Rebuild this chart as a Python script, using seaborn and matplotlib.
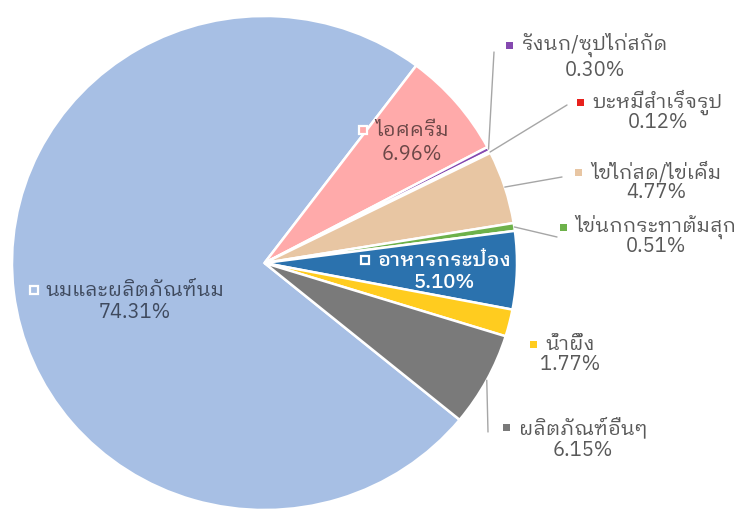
import matplotlib
matplotlib.use('Agg')
import numpy as np
import matplotlib.pyplot as plt
import seaborn as sns
from matplotlib import font_manager
from matplotlib.ft2font import FT2Font
from matplotlib.patches import Rectangle

# ข้อมูล
labels = ['นมและผลิตภัณฑ์นม', 'ไอศครีม', 'รังนก/ซุปไก่สกัด', 'บะหมี่สำเร็จรูป',
          'ไข่ไก่สด/ไข่เค็ม', 'ไข่นกกระทาต้มสุก', 'อาหารกระป๋อง', 'น้ำผึ้ง',
          'ผลิตภัณฑ์อื่นๆ']
shares = [74.31, 6.96, 0.30, 0.12, 4.77, 0.51, 5.10, 1.77, 6.15]
colors = ['#A7BFE4', '#FFAAAA', '#8549B0', '#E8211D', '#E8C6A3', '#6DB14A',
          '#2B72AE', '#FFCC1F', '#7A7A7A']

# fonts with Thai glyphs, looped ones (Tahoma-like) first
thai = set()
for f in font_manager.fontManager.ttflist:
    try:
        if 0x0E19 in FT2Font(f.fname).get_charmap():
            thai.add(f.name)
    except Exception:
        pass
prefer = ['IBM Plex Sans Thai Looped', 'Noto Sans Thai Looped', 'Tahoma',
          'Noto Sans Thai', 'IBM Plex Sans Thai', 'Sarabun']
fams = [p for p in prefer if p in thai] + sorted(thai)

sns.set_theme(style='white')
plt.rcParams['font.family'] = fams[:1] + ['DejaVu Sans']

W, H = 738, 512
fig = plt.figure(figsize=(W / 100, H / 100), dpi=100)
ax = fig.add_axes([12 / W, 2 / H, 505 / W, 494 / H])

wedges, _ = ax.pie(shares, colors=colors, startangle=-39.4, counterclock=False,
                   wedgeprops=dict(edgecolor='white', linewidth=1.8))
ax.set_xlim(-1, 1)
ax.set_ylim(-1, 1)
ax.set_aspect('auto')
ax.axis('off')

# label layout, pixel positions from the top-left: name line / leader end
name_pos = [(135, 290), (412, 130), (595, 45), (658, 102), (656, 172),
            (656, 227), (444, 260), (570, 344), (583, 427)]
pct_dy = [23, 24, 26, 21, 21, 20, 22, 21, 24]
text_col = ['#3F4A5E', '#6B4747', '#595959', '#595959', '#595959', '#595959',
            'white', '#595959', '#595959']
inside = [True, True, False, False, False, False, True, False, False]
leader_end = [None, None, (494, 52), (567, 105), (562, 177), (557, 237), None,
              None, (488, 432)]
fs = 14.5

texts = []
for i, lab in enumerate(labels):
    x, y = name_pos[i]
    weight = 'medium' if i == 6 else 'normal'
    t = fig.text(x / W, 1 - y / H, lab, ha='center', va='center', fontsize=fs,
                 color=text_col[i], fontweight=weight)
    fig.text(x / W, 1 - (y + pct_dy[i]) / H, '{0:.2f}%'.format(shares[i]),
             ha='center', va='center', fontsize=fs, color=text_col[i],
             fontweight=weight)
    texts.append(t)

fig.canvas.draw()
renderer = fig.canvas.get_renderer()
for i, t in enumerate(texts):
    bb = t.get_window_extent(renderer)
    s = 8 if inside[i] else 7
    cx = bb.x0 - 12
    cy = (bb.y0 + bb.y1) / 2
    if inside[i]:
        fig.add_artist(Rectangle((cx - s / 2, cy - s / 2), s, s,
                                 transform=None, facecolor=colors[i],
                                 edgecolor='white', linewidth=1.6))
    else:
        fig.add_artist(Rectangle((cx - s / 2, cy - s / 2), s, s,
                                 transform=None, facecolor=colors[i],
                                 edgecolor='none'))

# leader lines from the wedge rim
for i, w in enumerate(wedges):
    if leader_end[i] is None:
        continue
    mid = np.deg2rad((w.theta1 + w.theta2) / 2)
    ex, ey = leader_end[i]
    ax.annotate('', xy=(np.cos(mid), np.sin(mid)), xycoords='data',
                xytext=(ex, H - ey), textcoords='figure pixels',
                arrowprops=dict(arrowstyle='-', color='#A6A6A6', lw=1,
                                shrinkA=0, shrinkB=0))

fig.savefig('out.png', dpi=100)
